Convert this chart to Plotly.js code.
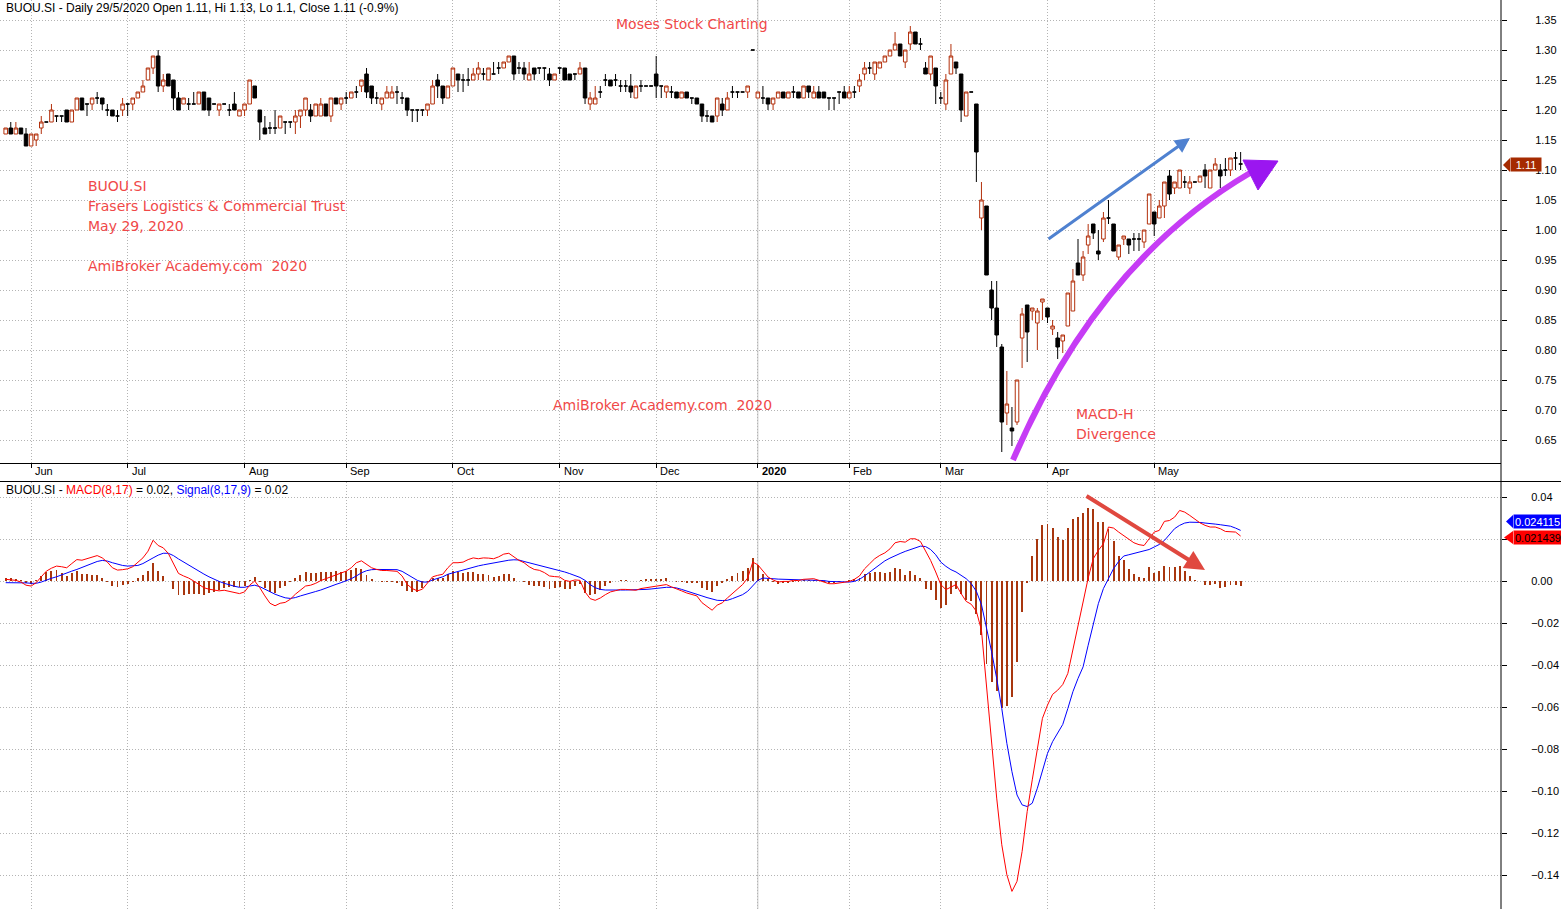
<!DOCTYPE html>
<html>
<head>
<meta charset="utf-8">
<script src="https://cdn.plot.ly/plotly-3.0.1.min.js"></script>
<style>
html,body{margin:0;padding:0;background:#ffffff;overflow:hidden;}
#chart{width:1561px;height:909px;}
</style>
</head>
<body>
<div id="chart"></div>
<script>
// ---------------- DATA ----------------
const openP = [
1.16,1.17,1.16,1.17,1.16,1.14,1.15,1.17,1.18,1.18,
1.19,1.19,1.20,1.18,1.20,1.22,1.21,1.21,1.22,1.22,
1.20,1.20,1.19,1.20,1.21,1.21,1.22,1.23,1.25,1.27,
1.29,1.24,1.26,1.25,1.22,1.21,1.21,1.21,1.21,1.23,
1.22,1.21,1.20,1.21,1.20,1.21,1.19,1.20,1.21,1.24,
1.20,1.17,1.17,1.17,1.17,1.18,1.18,1.18,1.19,1.20,
1.20,1.19,1.19,1.21,1.19,1.22,1.21,1.22,1.22,1.23,
1.24,1.26,1.24,1.22,1.21,1.22,1.22,1.23,1.22,1.22,
1.20,1.20,1.20,1.20,1.21,1.25,1.24,1.22,1.24,1.26,
1.25,1.25,1.25,1.26,1.26,1.25,1.26,1.27,1.27,1.28,
1.29,1.27,1.27,1.25,1.27,1.27,1.27,1.26,1.25,1.27,
1.27,1.26,1.26,1.26,1.27,1.21,1.21,1.23,1.25,1.25,
1.25,1.24,1.24,1.24,1.22,1.24,1.24,1.24,1.26,1.24,
1.23,1.23,1.23,1.22,1.23,1.22,1.22,1.21,1.19,1.19,
1.19,1.21,1.20,1.23,1.23,1.23,1.23,1.30,
1.22,1.22,1.22,1.21,1.22,1.23,1.22,1.23,1.23,1.22,
1.24,1.22,1.23,1.23,1.22,1.22,1.23,1.23,1.22,1.23,
1.24,1.26,1.27,1.26,1.27,1.28,1.29,1.30,1.31,1.28,
1.31,1.33,1.31,1.27,1.26,1.27,1.22,1.21,1.26,1.28,
1.26,1.19,1.23,1.21,1.02,1.04,0.90,0.87,0.805,0.695,
0.67,0.68,0.82,0.875,0.865,0.845,0.88,0.87,0.835,0.82,
0.815,0.84,0.865,0.945,0.925,0.975,1.01,0.965,0.985,1.02,
1.01,0.955,0.985,0.985,0.985,0.985,0.98,1.01,1.03,1.02,
1.04,1.09,1.07,1.07,1.08,1.07,1.08,1.08,1.10,1.07,
1.10,1.10,1.10,1.10,1.12,1.11
];
const highP = [
1.17,1.18,1.18,1.17,1.17,1.16,1.16,1.19,1.18,1.21,
1.19,1.19,1.20,1.20,1.22,1.22,1.21,1.22,1.23,1.22,
1.21,1.20,1.20,1.22,1.21,1.22,1.23,1.25,1.27,1.29,
1.30,1.26,1.26,1.25,1.23,1.22,1.22,1.23,1.23,1.23,
1.22,1.21,1.21,1.21,1.21,1.23,1.20,1.21,1.25,1.24,
1.20,1.19,1.18,1.20,1.19,1.18,1.18,1.20,1.20,1.22,
1.21,1.21,1.22,1.21,1.22,1.22,1.22,1.23,1.23,1.24,
1.25,1.27,1.24,1.23,1.22,1.24,1.24,1.24,1.23,1.22,
1.20,1.20,1.20,1.21,1.25,1.26,1.24,1.24,1.27,1.26,
1.26,1.27,1.27,1.28,1.27,1.27,1.28,1.28,1.28,1.29,
1.29,1.28,1.28,1.28,1.27,1.27,1.27,1.27,1.26,1.27,
1.27,1.26,1.26,1.28,1.27,1.23,1.24,1.24,1.26,1.25,
1.26,1.25,1.25,1.26,1.24,1.25,1.24,1.24,1.29,1.24,
1.24,1.24,1.23,1.23,1.23,1.22,1.22,1.21,1.20,1.19,
1.22,1.22,1.23,1.24,1.23,1.23,1.24,1.30,
1.23,1.24,1.22,1.22,1.23,1.23,1.23,1.24,1.23,1.24,
1.24,1.24,1.24,1.23,1.22,1.22,1.23,1.24,1.24,1.24,
1.26,1.28,1.28,1.28,1.28,1.29,1.30,1.33,1.31,1.30,
1.34,1.33,1.32,1.28,1.29,1.27,1.23,1.26,1.31,1.28,
1.26,1.23,1.23,1.21,1.08,1.04,0.915,0.915,0.81,0.765,
0.705,0.75,0.87,0.875,0.87,0.87,0.885,0.87,0.85,0.83,
0.825,0.895,0.935,0.985,0.965,1.01,1.01,1.00,1.03,1.05,
1.01,0.975,0.99,0.985,0.995,0.995,1.00,1.06,1.03,1.05,
1.08,1.10,1.08,1.10,1.09,1.09,1.08,1.09,1.11,1.10,
1.12,1.11,1.12,1.12,1.13,1.13
];
const lowP = [
1.16,1.16,1.16,1.16,1.14,1.14,1.14,1.16,1.18,1.18,
1.18,1.18,1.18,1.18,1.20,1.20,1.19,1.20,1.21,1.20,
1.19,1.19,1.18,1.19,1.19,1.20,1.22,1.23,1.25,1.26,
1.23,1.23,1.24,1.20,1.20,1.21,1.20,1.21,1.21,1.20,
1.19,1.21,1.19,1.21,1.19,1.20,1.19,1.19,1.21,1.22,
1.15,1.16,1.16,1.16,1.17,1.16,1.17,1.16,1.17,1.19,
1.18,1.19,1.19,1.19,1.18,1.21,1.20,1.21,1.22,1.22,
1.23,1.22,1.21,1.21,1.20,1.22,1.22,1.21,1.21,1.19,
1.18,1.18,1.19,1.19,1.21,1.22,1.21,1.22,1.24,1.23,
1.23,1.24,1.25,1.25,1.25,1.25,1.26,1.26,1.27,1.28,
1.25,1.26,1.25,1.25,1.25,1.26,1.25,1.24,1.25,1.26,
1.25,1.25,1.25,1.26,1.21,1.20,1.21,1.22,1.24,1.24,
1.24,1.23,1.23,1.22,1.22,1.23,1.24,1.24,1.22,1.22,
1.22,1.22,1.22,1.22,1.22,1.21,1.21,1.18,1.18,1.18,
1.18,1.19,1.20,1.22,1.22,1.23,1.22,1.30,
1.22,1.21,1.20,1.20,1.22,1.22,1.22,1.22,1.22,1.22,
1.22,1.22,1.22,1.22,1.20,1.20,1.21,1.22,1.22,1.22,
1.23,1.25,1.26,1.25,1.27,1.28,1.29,1.30,1.29,1.27,
1.30,1.31,1.30,1.26,1.25,1.21,1.21,1.20,1.26,1.26,
1.18,1.19,1.23,1.08,1.00,0.925,0.85,0.805,0.63,0.675,
0.64,0.675,0.77,0.78,0.85,0.80,0.85,0.845,0.825,0.785,
0.795,0.84,0.865,0.925,0.915,0.96,0.985,0.95,0.98,1.01,
0.965,0.95,0.975,0.96,0.965,0.965,0.97,1.01,0.99,1.02,
1.02,1.05,1.06,1.07,1.07,1.06,1.08,1.08,1.07,1.07,
1.10,1.07,1.09,1.09,1.10,1.10
];
const closeP = [
1.17,1.16,1.17,1.16,1.14,1.16,1.16,1.18,1.18,1.20,
1.19,1.19,1.18,1.20,1.22,1.20,1.21,1.22,1.22,1.21,
1.20,1.19,1.19,1.21,1.21,1.22,1.23,1.24,1.27,1.29,
1.24,1.25,1.24,1.22,1.20,1.22,1.21,1.21,1.23,1.20,
1.20,1.21,1.21,1.21,1.20,1.20,1.20,1.21,1.25,1.22,
1.18,1.16,1.17,1.17,1.19,1.18,1.18,1.19,1.20,1.22,
1.19,1.21,1.21,1.19,1.22,1.21,1.22,1.22,1.23,1.23,
1.25,1.23,1.22,1.22,1.22,1.23,1.23,1.23,1.22,1.20,
1.20,1.20,1.20,1.21,1.24,1.24,1.22,1.24,1.27,1.25,
1.25,1.25,1.26,1.27,1.26,1.27,1.26,1.27,1.28,1.29,
1.26,1.27,1.26,1.26,1.26,1.27,1.27,1.25,1.26,1.27,
1.25,1.25,1.26,1.27,1.22,1.22,1.22,1.23,1.25,1.24,
1.25,1.24,1.24,1.23,1.24,1.24,1.24,1.24,1.24,1.24,
1.24,1.23,1.22,1.23,1.22,1.22,1.21,1.19,1.19,1.18,
1.22,1.20,1.22,1.23,1.23,1.23,1.24,1.30,
1.23,1.22,1.21,1.22,1.23,1.22,1.23,1.23,1.22,1.24,
1.23,1.23,1.22,1.22,1.22,1.22,1.23,1.22,1.23,1.23,
1.25,1.27,1.27,1.28,1.28,1.29,1.30,1.31,1.29,1.30,
1.33,1.31,1.31,1.26,1.29,1.24,1.22,1.25,1.29,1.27,
1.20,1.23,1.23,1.13,1.05,0.925,0.87,0.825,0.68,0.71,
0.665,0.75,0.86,0.83,0.87,0.865,0.885,0.855,0.84,0.805,
0.825,0.895,0.915,0.925,0.955,0.99,0.995,0.96,1.02,1.02,
0.965,0.975,0.99,0.975,0.985,0.985,1.00,1.06,1.01,1.04,
1.08,1.06,1.08,1.10,1.08,1.08,1.08,1.09,1.09,1.10,
1.11,1.09,1.10,1.12,1.12,1.11
];
const macdLine = [
0.0008,0.0005,0.0003,-0.0005,-0.0020,-0.0024,-0.0008,0.0020,0.0047,0.0061,
0.0071,0.0068,0.0063,0.0083,0.0102,0.0099,0.0106,0.0113,0.0121,0.0110,
0.0090,0.0063,0.0052,0.0054,0.0058,0.0068,0.0087,0.0110,0.0142,0.0194,
0.0169,0.0158,0.0131,0.0083,0.0036,0.0024,0.0014,0.0000,-0.0016,-0.0032,
-0.0039,-0.0043,-0.0047,-0.0044,-0.0049,-0.0055,-0.0060,-0.0052,-0.0020,0.0000,
-0.0032,-0.0071,-0.0106,-0.0118,-0.0106,-0.0102,-0.0087,-0.0063,-0.0043,-0.0024,
-0.0020,-0.0011,0.0002,0.0011,0.0020,0.0030,0.0036,0.0047,0.0063,0.0087,
0.0096,0.0079,0.0063,0.0055,0.0050,0.0050,0.0049,0.0046,0.0024,-0.0016,
-0.0036,-0.0047,-0.0039,-0.0008,0.0020,0.0027,0.0032,0.0063,0.0087,0.0087,
0.0090,0.0102,0.0110,0.0106,0.0110,0.0109,0.0106,0.0115,0.0128,0.0132,
0.0115,0.0098,0.0087,0.0068,0.0055,0.0051,0.0040,0.0024,0.0021,0.0019,
0.0003,-0.0002,0.0005,0.0003,-0.0052,-0.0084,-0.0092,-0.0081,-0.0065,-0.0052,
-0.0046,-0.0040,-0.0040,-0.0041,-0.0044,-0.0036,-0.0032,-0.0030,-0.0024,-0.0021,
-0.0017,-0.0028,-0.0036,-0.0047,-0.0057,-0.0065,-0.0071,-0.0103,-0.0123,-0.0139,
-0.0115,-0.0104,-0.0081,-0.0060,-0.0036,-0.0017,0.0014,0.0090,0.0077,0.0049,
0.0019,0.0005,-0.0005,-0.0002,-0.0002,0.0003,0.0002,0.0008,0.0011,0.0011,
0.0003,-0.0005,-0.0013,-0.0013,-0.0011,-0.0006,-0.0002,0.0008,0.0024,0.0058,
0.0082,0.0106,0.0122,0.0134,0.0153,0.0182,0.0188,0.0185,0.0201,0.0201,
0.0188,0.0145,0.0098,0.0043,-0.0017,-0.0041,-0.0029,-0.0017,-0.0060,-0.0097,
-0.0111,-0.0144,-0.0234,-0.0512,-0.0765,-0.1034,-0.1256,-0.1399,-0.1478,-0.1430,
-0.1288,-0.1098,-0.0947,-0.0797,-0.0654,-0.0591,-0.0540,-0.0520,-0.0493,-0.0440,
-0.0322,-0.0219,-0.0100,0.0014,0.0106,0.0146,0.0177,0.0257,0.0252,0.0233,
0.0217,0.0198,0.0182,0.0173,0.0169,0.0201,0.0233,0.0241,0.0284,0.0288,
0.0304,0.0336,0.0328,0.0312,0.0293,0.0277,0.0265,0.0257,0.0257,0.0249,
0.0236,0.0236,0.0233,0.0214
];
const signalLine = [
-0.0008,-0.0008,-0.0006,-0.0008,-0.0009,-0.0011,-0.0011,-0.0005,0.0005,0.0013,
0.0020,0.0030,0.0039,0.0047,0.0055,0.0065,0.0074,0.0083,0.0093,0.0098,
0.0095,0.0087,0.0079,0.0074,0.0071,0.0071,0.0074,0.0083,0.0095,0.0110,
0.0123,0.0132,0.0132,0.0121,0.0105,0.0090,0.0074,0.0061,0.0047,0.0033,
0.0020,0.0008,-0.0002,-0.0011,-0.0019,-0.0025,-0.0030,-0.0030,-0.0024,-0.0020,
-0.0027,-0.0039,-0.0052,-0.0063,-0.0072,-0.0080,-0.0083,-0.0079,-0.0071,-0.0065,
-0.0058,-0.0050,-0.0043,-0.0033,-0.0024,-0.0016,-0.0008,0.0000,0.0011,0.0024,
0.0039,0.0049,0.0054,0.0055,0.0055,0.0055,0.0055,0.0054,0.0046,0.0032,
0.0016,0.0003,-0.0005,-0.0005,0.0005,0.0013,0.0020,0.0032,0.0039,0.0046,
0.0052,0.0058,0.0066,0.0072,0.0077,0.0082,0.0087,0.0090,0.0095,0.0099,
0.0101,0.0100,0.0093,0.0087,0.0081,0.0074,0.0068,0.0062,0.0055,0.0049,
0.0043,0.0035,0.0027,0.0017,0.0003,-0.0017,-0.0032,-0.0040,-0.0043,-0.0044,
-0.0044,-0.0043,-0.0043,-0.0043,-0.0043,-0.0041,-0.0040,-0.0038,-0.0035,-0.0032,
-0.0030,-0.0030,-0.0033,-0.0040,-0.0047,-0.0055,-0.0063,-0.0071,-0.0079,-0.0087,
-0.0092,-0.0093,-0.0092,-0.0084,-0.0076,-0.0065,-0.0049,-0.0021,0.0003,0.0014,
0.0011,0.0011,0.0009,0.0008,0.0008,0.0006,0.0006,0.0005,0.0005,0.0005,
0.0003,0.0002,-0.0002,-0.0003,-0.0005,-0.0005,-0.0005,-0.0002,0.0008,0.0024,
0.0043,0.0062,0.0081,0.0096,0.0109,0.0122,0.0131,0.0141,0.0150,0.0160,
0.0166,0.0164,0.0150,0.0125,0.0090,0.0070,0.0054,0.0043,0.0027,0.0011,
-0.0013,-0.0049,-0.0112,-0.0219,-0.0337,-0.0464,-0.0607,-0.0773,-0.0908,-0.1019,
-0.1066,-0.1074,-0.1058,-0.0987,-0.0904,-0.0821,-0.0765,-0.0725,-0.0683,-0.0607,
-0.0527,-0.0464,-0.0409,-0.0306,-0.0203,-0.0108,-0.0036,0.0014,0.0059,0.0093,
0.0119,0.0125,0.0131,0.0135,0.0141,0.0150,0.0162,0.0174,0.0193,0.0222,
0.0249,0.0265,0.0276,0.0280,0.0280,0.0279,0.0276,0.0272,0.0271,0.0268,
0.0265,0.0261,0.0252,0.0241
];
const macdHist = [
0.0016,0.0013,0.0009,0.0003,-0.0011,-0.0013,0.0003,0.0025,0.0042,0.0048,
0.0051,0.0038,0.0024,0.0036,0.0047,0.0034,0.0032,0.0030,0.0028,0.0012,
-0.0005,-0.0024,-0.0027,-0.0020,-0.0013,-0.0003,0.0013,0.0027,0.0047,0.0084,
0.0046,0.0026,-0.0001,-0.0038,-0.0069,-0.0066,-0.0060,-0.0061,-0.0063,-0.0065,
-0.0059,-0.0051,-0.0045,-0.0033,-0.0030,-0.0030,-0.0030,-0.0022,0.0004,0.0020,
-0.0005,-0.0032,-0.0054,-0.0055,-0.0034,-0.0022,-0.0004,0.0016,0.0028,0.0041,
0.0038,0.0039,0.0045,0.0044,0.0044,0.0046,0.0044,0.0047,0.0052,0.0063,
0.0057,0.0030,0.0009,0.0000,-0.0005,-0.0005,-0.0006,-0.0008,-0.0022,-0.0048,
-0.0052,-0.0050,-0.0034,-0.0003,0.0015,0.0014,0.0012,0.0031,0.0048,0.0041,
0.0038,0.0044,0.0044,0.0034,0.0033,0.0027,0.0019,0.0025,0.0033,0.0033,
0.0014,-0.0002,-0.0006,-0.0019,-0.0026,-0.0023,-0.0028,-0.0038,-0.0034,-0.0030,
-0.0040,-0.0037,-0.0022,-0.0014,-0.0055,-0.0067,-0.0060,-0.0041,-0.0022,-0.0008,
-0.0002,0.0003,0.0003,0.0002,-0.0001,0.0005,0.0008,0.0008,0.0011,0.0011,
0.0013,0.0002,-0.0003,-0.0007,-0.0010,-0.0010,-0.0008,-0.0032,-0.0044,-0.0052,
-0.0023,-0.0011,0.0011,0.0024,0.0040,0.0048,0.0063,0.0111,0.0074,0.0035,
0.0008,-0.0006,-0.0014,-0.0010,-0.0010,-0.0003,-0.0004,0.0003,0.0006,0.0006,
0.0000,-0.0007,-0.0011,-0.0010,-0.0006,-0.0001,0.0003,0.0010,0.0016,0.0034,
0.0039,0.0044,0.0041,0.0038,0.0044,0.0060,0.0057,0.0030,0.0046,0.0030,
0.0016,-0.0040,-0.0044,-0.0092,-0.0128,-0.0116,-0.0060,-0.0036,-0.0060,-0.0092,
-0.0097,-0.0155,-0.0255,-0.0394,-0.0480,-0.0526,-0.0607,-0.0594,-0.0550,-0.0388,
-0.0147,-0.0008,0.0119,0.0201,0.0269,0.0272,0.0252,0.0209,0.0193,0.0252,
0.0293,0.0304,0.0325,0.0347,0.0344,0.0280,0.0280,0.0250,0.0190,0.0120,
0.0098,0.0057,0.0032,0.0019,0.0014,0.0067,0.0038,0.0048,0.0071,0.0067,
0.0067,0.0071,0.0046,0.0024,0.0003,0.0000,-0.0021,-0.0017,-0.0013,-0.0033,
-0.0029,-0.0017,-0.0017,-0.0025
];
const monthIdx = [5, 24, 47, 67, 88, 109, 128, 148, 166, 184, 205, 226];
const monthLabels = ['Jun','Jul','Aug','Sep','Oct','Nov','Dec','2020','Feb','Mar','Apr','May'];
const priceTicks = [0.65,0.70,0.75,0.80,0.85,0.90,0.95,1.00,1.05,1.10,1.15,1.20,1.25,1.30,1.35];
const macdTicks = [-0.14,-0.12,-0.10,-0.08,-0.06,-0.04,-0.02,0.00,0.02,0.04];
// the 0.02 label sits under the red value tag in the reference, so it is not shown
const macdTickText = ['\u22120.14','\u22120.12','\u22120.10','\u22120.08','\u22120.06','\u22120.04','\u22120.02','0.00','','0.04'];

// ---------------- helpers (layout only) ----------------
const W = 1501, H = 909;
const px = x => x / W;
const py = y => 1 - y / H;
const xIdx = closeP.map((c, i) => i);
const part = (arr, doji) => arr.map((v, i) => ((closeP[i] === openP[i]) === doji ? v : null));

const UP = '#b3300c', HIST = '#a8360e';
const AX_FONT = {family: 'Liberation Sans, Arial, sans-serif', size: 11, color: '#000'};
const HAND = {family: 'DejaVu Sans, sans-serif', size: 14, color: '#f04848'};

const traces = [
  {type: 'candlestick', x: xIdx,
   open: part(openP, false), high: part(highP, false), low: part(lowP, false), close: part(closeP, false),
   increasing: {line: {color: UP, width: 1}, fillcolor: '#ffffff'},
   decreasing: {line: {color: '#000000', width: 1}, fillcolor: '#000000'},
   whiskerwidth: 0, hoverinfo: 'skip', showlegend: false, xaxis: 'x', yaxis: 'y'},
  {type: 'candlestick', x: xIdx,
   open: part(openP, true), high: part(highP, true), low: part(lowP, true), close: part(closeP, true),
   increasing: {line: {color: '#000000', width: 1}, fillcolor: '#000000'},
   decreasing: {line: {color: '#000000', width: 1}, fillcolor: '#000000'},
   whiskerwidth: 0, hoverinfo: 'skip', showlegend: false, xaxis: 'x', yaxis: 'y'},
  {type: 'bar', x: xIdx, y: macdHist, width: 0.38, marker: {color: HIST, line: {width: 0}},
   xaxis: 'x2', yaxis: 'y2', hoverinfo: 'skip', showlegend: false},
  {type: 'scatter', mode: 'lines', x: xIdx, y: signalLine, line: {color: '#0000ff', width: 1},
   xaxis: 'x2', yaxis: 'y2', hoverinfo: 'skip', showlegend: false},
  {type: 'scatter', mode: 'lines', x: xIdx, y: macdLine, line: {color: '#ff0000', width: 1},
   xaxis: 'x2', yaxis: 'y2', hoverinfo: 'skip', showlegend: false}
];

const GRID = '#b4b4b4', GD = '1px,2px';
const xr = [-5.7 / 5.082, (W - 5.7) / 5.082];

const annotations = [];
annotations.push({xref: 'paper', yref: 'paper', x: px(4), y: py(8), xanchor: 'left', yanchor: 'middle', showarrow: false,
  text: 'BUOU.SI - Daily 29/5/2020 Open 1.11, Hi 1.13, Lo 1.1, Close 1.11 (-0.9%)',
  font: {family: 'Liberation Sans, Arial, sans-serif', size: 12, color: '#000'}});
annotations.push({xref: 'paper', yref: 'paper', x: px(4), y: py(490), xanchor: 'left', yanchor: 'middle', showarrow: false,
  text: 'BUOU.SI - <span style="color:#ff0000">MACD(8,17)</span> = 0.02, <span style="color:#0000ff">Signal(8,17,9)</span> = 0.02',
  font: {family: 'Liberation Sans, Arial, sans-serif', size: 12, color: '#000'}});
monthIdx.forEach((m, k) => {
  annotations.push({xref: 'x', yref: 'paper', x: m, y: py(471), xanchor: 'left', yanchor: 'middle', xshift: 2, showarrow: false,
    text: monthLabels[k] === '2020' ? '<b>2020</b>' : monthLabels[k], font: AX_FONT});
});
const hand = (t, x, y, anchor) => annotations.push({xref: 'paper', yref: 'paper', x: px(x), y: py(y),
  xanchor: anchor || 'left', yanchor: 'middle', showarrow: false, text: t, font: HAND});
hand('Moses Stock Charting', 692, 24, 'center');
hand('BUOU.SI', 86, 186);
hand('Frasers Logistics &amp; Commercial Trust', 86, 206);
hand('May 29, 2020', 86, 226);
hand('AmiBroker Academy.com\u00a0\u00a02020', 86, 266);
hand('AmiBroker Academy.com\u00a0\u00a02020', 551, 405);
hand('MACD-H', 1074, 414);
hand('Divergence', 1074, 434);

// value tags on the right axis
annotations.push({xref: 'paper', yref: 'paper', x: px(1510), y: py(165), xanchor: 'left', yanchor: 'middle', showarrow: false,
  text: '1.11', bgcolor: '#a52a00', width: 28, height: 11, borderpad: 1, font: {family: AX_FONT.family, size: 11, color: '#fff'}});
annotations.push({xref: 'paper', yref: 'paper', x: px(1513), y: py(521.5), xanchor: 'left', yanchor: 'middle', showarrow: false,
  text: '0.024115', bgcolor: '#0000ff', width: 50, height: 11, borderpad: 1, align: 'left', font: {family: AX_FONT.family, size: 11, color: '#fff'}});
annotations.push({xref: 'paper', yref: 'paper', x: px(1513), y: py(537.5), xanchor: 'left', yanchor: 'middle', showarrow: false,
  text: '0.021439', bgcolor: '#ff0000', width: 50, height: 11, borderpad: 1, align: 'left', font: {family: AX_FONT.family, size: 11, color: '#000'}});

// drawn arrows
annotations.push({xref: 'paper', yref: 'paper', axref: 'paper', ayref: 'paper', x: px(1190), y: py(138), ax: px(1047), ay: py(240),
  showarrow: true, text: '', arrowhead: 2, arrowsize: 1, arrowwidth: 3, arrowcolor: '#4f81d0'});
annotations.push({xref: 'paper', yref: 'paper', axref: 'paper', ayref: 'paper', x: px(1205), y: py(570), ax: px(1085), ay: py(495),
  showarrow: true, text: '', arrowhead: 2, arrowsize: 1, arrowwidth: 4, arrowcolor: '#e0483f'});

const shapes = [
  {type: 'line', xref: 'x', yref: 'paper', x0: monthIdx[7], x1: monthIdx[7], y0: py(463), y1: 1, layer: 'below', line: {color: '#c4c4c4', width: 1}},
  {type: 'line', xref: 'x', yref: 'paper', x0: monthIdx[7], x1: monthIdx[7], y0: 0, y1: py(482), layer: 'below', line: {color: '#c4c4c4', width: 1}},
  {type: 'line', xref: 'paper', yref: 'paper', x0: 1, x1: 1, y0: 0, y1: 1, line: {color: '#000', width: 1}},
  {type: 'line', xref: 'paper', yref: 'paper', x0: 0, x1: 1561 / W, y0: py(481.5), y1: py(481.5), line: {color: '#000', width: 1}},
  {type: 'path', xref: 'paper', yref: 'paper', path: `M ${px(1503)},${py(165)} L ${px(1510)},${py(158)} L ${px(1510)},${py(172)} Z`,
   fillcolor: '#a52a00', line: {width: 0}},
  {type: 'path', xref: 'paper', yref: 'paper', path: `M ${px(1506)},${py(521.5)} L ${px(1513)},${py(515)} L ${px(1513)},${py(528)} Z`,
   fillcolor: '#0000ff', line: {width: 0}},
  {type: 'path', xref: 'paper', yref: 'paper', path: `M ${px(1504)},${py(537.5)} L ${px(1513)},${py(531)} L ${px(1513)},${py(544)} Z`,
   fillcolor: '#ff0000', line: {width: 0}},
  {type: 'path', xref: 'paper', yref: 'paper', path: `M ${px(1013)},${py(460)} Q ${px(1098)},${py(262)} ${px(1250)},${py(173)}`,
   line: {color: '#c63cf5', width: 6}},
  {type: 'path', xref: 'paper', yref: 'paper', path: `M ${px(1278)},${py(161)} L ${px(1243)},${py(160)} L ${px(1258)},${py(190)} Z`,
   fillcolor: '#9b16f0', line: {color: '#9b16f0', width: 1}}
];

const layout = {
  width: 1561, height: 909,
  margin: {l: 0, r: 60, t: 0, b: 0, pad: 0},
  paper_bgcolor: '#ffffff', plot_bgcolor: '#ffffff',
  showlegend: false, hovermode: false,
  boxgap: 0.3, boxgroupgap: 0, boxmode: 'overlay', bargap: 0,
  xaxis: {domain: [0, 1], anchor: 'y', range: xr, tickmode: 'array', tickvals: monthIdx, showticklabels: false,
    ticks: 'outside', ticklen: 4, tickcolor: '#000', showline: true, linecolor: '#000', linewidth: 1,
    showgrid: true, gridcolor: GRID, griddash: GD, zeroline: false, rangeslider: {visible: false}, fixedrange: true},
  xaxis2: {domain: [0, 1], anchor: 'y2', matches: 'x', range: xr, tickmode: 'array', tickvals: monthIdx, showticklabels: false,
    ticks: '', showline: false, showgrid: true, gridcolor: GRID, griddash: GD, zeroline: false, fixedrange: true},
  yaxis: {domain: [py(463), 1], anchor: 'x', side: 'right', range: [1.35 - 443 / 600, 1.35 + 20 / 600],
    tickmode: 'array', tickvals: priceTicks, tickformat: '.2f', ticks: 'outside', ticklen: 5, tickcolor: '#000',
    ticklabelstandoff: 26, tickfont: AX_FONT, showline: false, showgrid: true, gridcolor: GRID, griddash: GD,
    zeroline: false, automargin: false, fixedrange: true},
  yaxis2: {domain: [0, py(482)], anchor: 'x2', side: 'right', range: [-328 / 2100, 0.04 + 15 / 2100],
    tickmode: 'array', tickvals: macdTicks, ticktext: macdTickText, ticks: 'outside', ticklen: 5, tickcolor: '#000',
    ticklabelstandoff: 22, tickfont: AX_FONT, showline: false, showgrid: true, gridcolor: GRID, griddash: GD,
    zeroline: false, automargin: false, fixedrange: true},
  annotations: annotations,
  shapes: shapes
};

Plotly.newPlot('chart', traces, layout, {staticPlot: true, displayModeBar: false});
</script>
</body>
</html>
